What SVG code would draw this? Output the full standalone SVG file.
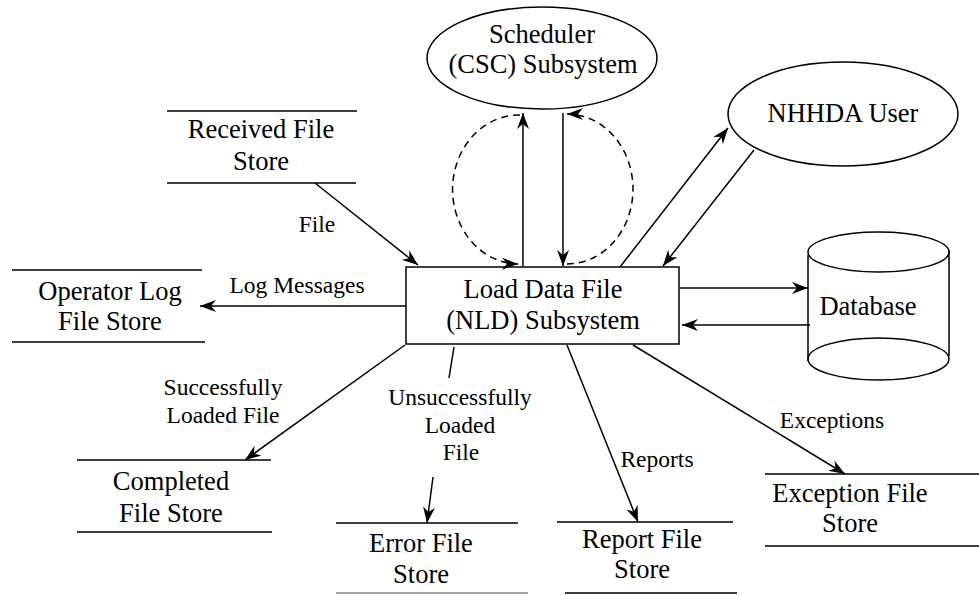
<svg xmlns="http://www.w3.org/2000/svg" width="979" height="595" viewBox="0 0 979 595">
<style>
  .n { font-size: 26.5px; fill: #000; text-anchor: middle; }
  .l { font-size: 23.5px; fill: #000; text-anchor: middle; }
  .s { stroke: #000; stroke-width: 1.5; fill: none; }
  .c { stroke: #000; stroke-width: 1.5; fill: none; }
  .a { marker-end: url(#arr); }
  .d { stroke-dasharray: 7 5; }
</style>
<defs>
  <marker id="arr" markerUnits="userSpaceOnUse" markerWidth="18" markerHeight="14" refX="16" refY="6" orient="auto">
    <path d="M0,0 L16,6 L0,12 L5,6 z" fill="#000"/>
  </marker>
</defs>
<rect width="979" height="595" fill="#fff"/>
<g font-family="Liberation Serif, DejaVu Serif, serif">
<g id="scheduler">
  <ellipse class="s" cx="542" cy="58" rx="115" ry="51"/>
  <text class="n" x="542" y="43">Scheduler</text>
  <text class="n" x="543" y="73">(CSC) Subsystem</text>
</g>
<g id="nhhda">
  <ellipse class="s" cx="843" cy="114" rx="115" ry="52"/>
  <text class="n" x="843" y="122">NHHDA User</text>
</g>
<g id="nld">
  <rect class="s" x="406" y="267" width="273" height="77"/>
  <text class="n" x="543" y="298">Load Data File</text>
  <text class="n" x="543" y="329">(NLD) Subsystem</text>
</g>
<g id="database">
  <path class="s" d="M808,255 L808,361 M949,250 L949,356"/>
  <ellipse class="s" cx="878.5" cy="252" rx="70.5" ry="20"/>
  <ellipse class="s" cx="878.5" cy="359" rx="70.5" ry="21"/>
  <text class="n" x="868" y="315">Database</text>
</g>
<g id="received">
  <path class="s" d="M167,111 H357 M167,183 H356"/>
  <text class="n" x="261" y="138">Received File</text>
  <text class="n" x="261" y="170">Store</text>
</g>
<g id="operator">
  <path class="s" d="M12,270 H202 M12,342 H205"/>
  <text class="n" x="110" y="300">Operator Log</text>
  <text class="n" x="110" y="330">File Store</text>
</g>
<g id="completed">
  <path class="s" d="M77,460 H271 M77,532 H272"/>
  <text class="n" x="171" y="490">Completed</text>
  <text class="n" x="171" y="522">File Store</text>
</g>
<g id="error">
  <path class="s" d="M336,523 H518"/>
  <path d="M336,593 H528" stroke="#888" stroke-width="1.5"/>
  <text class="n" x="421" y="552">Error File</text>
  <text class="n" x="421" y="583">Store</text>
</g>
<g id="report">
  <path class="s" d="M557,522 H733 M565,593 H737"/>
  <text class="n" x="642" y="548">Report File</text>
  <text class="n" x="642" y="578">Store</text>
</g>
<g id="exception">
  <path class="s" d="M765,474 H979 M765,546 H979"/>
  <text class="n" x="850" y="502">Exception File</text>
  <text class="n" x="850" y="532">Store</text>
</g>

<g id="connectors">
  <line class="c a" x1="315" y1="183" x2="418" y2="265"/>
  <line class="c a" x1="406" y1="306" x2="200" y2="306"/>
  <line class="c a" x1="523" y1="266" x2="523" y2="113"/>
  <line class="c a" x1="563" y1="113" x2="563" y2="266"/>
  <path class="c a d" d="M520,115 A66 74 0 0 0 518,264"/>
  <path class="c a d" d="M567,264 A66 75 0 0 0 567,114"/>
  <line class="c a" x1="620" y1="267" x2="728" y2="128"/>
  <line class="c a" x1="754" y1="150" x2="663" y2="266"/>
  <line class="c a" x1="680" y1="288" x2="808" y2="288"/>
  <line class="c a" x1="810" y1="325" x2="682" y2="325"/>
  <line class="c a" x1="405" y1="345" x2="245" y2="460"/>
  <line class="c" x1="454" y1="347" x2="449" y2="378"/>
  <line class="c a" x1="433" y1="477" x2="427" y2="523"/>
  <line class="c a" x1="567" y1="345" x2="638" y2="522"/>
  <line class="c a" x1="633" y1="345" x2="845" y2="474"/>
</g>

<g id="labels">
  <text class="l" x="317" y="232">File</text>
  <text class="l" x="297" y="293">Log Messages</text>
  <text class="l" x="223" y="395">Successfully</text>
  <text class="l" x="223" y="423">Loaded File</text>
  <text class="l" x="460" y="405">Unsuccessfully</text>
  <text class="l" x="460" y="433">Loaded</text>
  <text class="l" x="461" y="460">File</text>
  <text class="l" x="657" y="467">Reports</text>
  <text class="l" x="832" y="428">Exceptions</text>
</g>
</g>
</svg>
